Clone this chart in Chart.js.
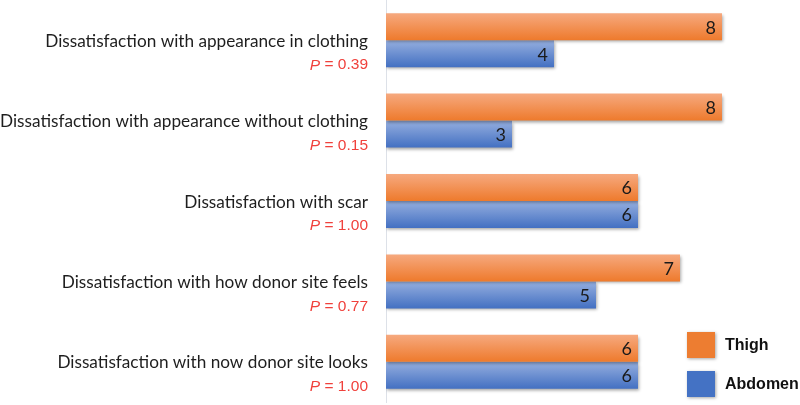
<!DOCTYPE html>
<html><head><meta charset="utf-8">
<script src="https://cdn.jsdelivr.net/npm/chart.js@4"></script>
<style>html,body{margin:0;padding:0;background:#fff;} #wrap{width:800px;height:405px;position:relative;}</style>
</head><body><div id="wrap"><canvas id="c"></canvas></div>
<script>
const categories = [
  'Dissatisfaction with appearance in clothing',
  'Dissatisfaction with appearance without clothing',
  'Dissatisfaction with scar',
  'Dissatisfaction with how donor site feels',
  'Dissatisfaction with now donor site looks'
];
const pValues = ['0.39', '0.15', '1.00', '0.77', '1.00'];
const seriesNames = ['Thigh', 'Abdomen'];
const thigh = [8, 8, 6, 7, 6];
const abdomen = [4, 3, 6, 5, 6];

const gradStops = [
  ['#f6a97f', '#ee7a2c'],
  ['#96afdf', '#4370c2']
];
const solid = ['#ed7d31', '#4472c4'];

const gradientPlugin = {
  id: 'grad',
  beforeDatasetsDraw(chart) {
    const ctx = chart.ctx;
    chart.data.datasets.forEach((ds, di) => {
      const meta = chart.getDatasetMeta(di);
      meta.data.forEach(el => {
        const p = el.getProps(['y', 'height'], true);
        const g = ctx.createLinearGradient(0, p.y - p.height / 2, 0, p.y + p.height / 2);
        g.addColorStop(0, gradStops[di][0]);
        g.addColorStop(1, gradStops[di][1]);
        el.options = Object.assign({}, el.options, {backgroundColor: g});
      });
    });
  },
  beforeDatasetDraw(chart) {
    const ctx = chart.ctx;
    ctx.save();
    ctx.shadowColor = 'rgba(0,0,0,0.35)';
    ctx.shadowBlur = 3;
    ctx.shadowOffsetX = 1;
    ctx.shadowOffsetY = 2;
  },
  afterDatasetDraw(chart) {
    chart.ctx.restore();
  }
};

const labelPlugin = {
  id: 'labels',
  afterDraw(chart) {
    const ctx = chart.ctx;
    const ys = chart.scales.y;
    const xr = 368;
    ctx.save();
    ctx.textAlign = 'right';
    ctx.textBaseline = 'middle';
    categories.forEach((name, i) => {
      const y = ys.getPixelForTick(i);
      ctx.fillStyle = '#1e1e1e';
      ctx.font = '17.2px Lato';
      ctx.fillText(name, xr, y + 1);
      const rest = ' = ' + pValues[i];
      ctx.font = '15.5px "Liberation Sans"';
      ctx.fillStyle = '#f0413c';
      const w = ctx.measureText(rest).width;
      ctx.fillText(rest, xr, y + 25);
      ctx.font = 'italic 15.5px "Liberation Sans"';
      ctx.fillText('P', xr - w, y + 25);
    });
    // value labels
    ctx.font = '18px Lato';
    ctx.fillStyle = '#1a1a1a';
    chart.data.datasets.forEach((ds, di) => {
      const meta = chart.getDatasetMeta(di);
      meta.data.forEach((el, j) => {
        const p = el.getProps(['x', 'y'], true);
        ctx.fillText(String(ds.data[j]), p.x - 6, p.y + 1);
      });
    });
    // legend
    const lx = 687, lys = [332, 371];
    chart.data.datasets.forEach((ds, di) => {
      ctx.save();
      ctx.shadowColor = 'rgba(0,0,0,0.35)';
      ctx.shadowBlur = 3;
      ctx.shadowOffsetX = 1;
      ctx.shadowOffsetY = 1;
      ctx.fillStyle = solid[di];
      ctx.fillRect(lx, lys[di], 28, 26);
      ctx.restore();
      ctx.font = 'bold 16px "Liberation Sans"';
      ctx.fillStyle = '#111';
      ctx.textAlign = 'left';
      ctx.fillText(ds.label, 725, lys[di] + 14);
    });
    ctx.restore();
  }
};

new Chart(document.getElementById('c'), {
  type: 'bar',
  data: {
    labels: categories,
    datasets: [
      {label: seriesNames[0], data: thigh, backgroundColor: solid[0]},
      {label: seriesNames[1], data: abdomen, backgroundColor: solid[1]}
    ]
  },
  options: {
    indexAxis: 'y',
    responsive: true,
    maintainAspectRatio: false,
    animation: false,
    categoryPercentage: 0.672,
    barPercentage: 1.0,
    layout: {padding: {left: 0, right: 36, top: 0, bottom: 3}},
    plugins: {legend: {display: false}, tooltip: {enabled: false}},
    scales: {
      x: {display: false, min: 0, max: 9},
      y: {
        grid: {display: false, drawTicks: false},
        border: {display: true, color: '#dde1e8', width: 1},
        ticks: {display: false},
        afterFit(scale) { scale.width = 386; }
      }
    }
  },
  plugins: [gradientPlugin, labelPlugin]
});
</script>
</body></html>
